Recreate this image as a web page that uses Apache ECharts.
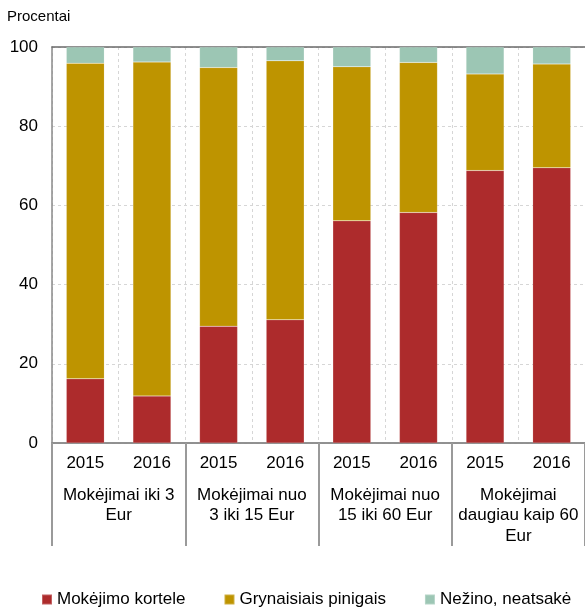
<!DOCTYPE html>
<html>
<head>
<meta charset="utf-8">
<script src="https://cdn.jsdelivr.net/npm/echarts@6/dist/echarts.min.js"></script>
<style>html,body{margin:0;padding:0;background:#fff}#c{width:585px;height:609px}</style>
</head>
<body>
<div id="c"></div>
<script>
const years = ['2015','2016','2015','2016','2015','2016','2015','2016'];
const groups = ['Mokėjimai iki 3\nEur','Mokėjimai nuo\n3 iki 15 Eur','Mokėjimai nuo\n15 iki 60 Eur','Mokėjimai\ndaugiau kaip 60\nEur'];
const seriesNames = ['Mokėjimo kortele','Grynaisiais pinigais','Nežino, neatsakė'];
const card = [16.2, 11.9, 29.5, 31.1, 56.1, 58.2, 68.8, 69.5];
const cash = [79.7, 84.3, 65.3, 65.4, 38.9, 37.9, 24.4, 26.2];
const unknown = [4.1, 3.8, 5.2, 3.5, 5.0, 3.9, 6.8, 4.3];
const yTicks = [0, 20, 40, 60, 80, 100];

const FONT = '"Liberation Sans", Arial, sans-serif';
const colors = ['#AD2B2C', '#BE9400', '#9CC6B4'];
const chart = echarts.init(document.getElementById('c'), null, {renderer: 'canvas'});
chart.setOption({
  animation: false,
  textStyle: {fontFamily: FONT},
  title: {text: 'Procentai', left: 2, top: 4, textStyle: {fontSize: 15, fontWeight: 'normal', color: '#000', fontFamily: FONT}},
  legend: {
    left: 36, top: 586, itemWidth: 10, itemHeight: 10, itemGap: 38,
    icon: 'rect',
    textStyle: {fontSize: 17, color: '#000', fontFamily: FONT},
    data: seriesNames
  },
  grid: {left: 52, top: 47, width: 536, height: 396},
  xAxis: [
    {
      type: 'category', data: years, position: 'bottom',
      axisLine: {show: true, lineStyle: {color: '#8a8a8a', width: 1.5}},
      axisTick: {show: false},
      axisLabel: {fontSize: 17, color: '#000', margin: 12, fontFamily: FONT},
      splitLine: {show: true, interval: 0, lineStyle: {color: '#d6d6d6', type: [3, 3], width: 1}}
    },
    {
      type: 'category', data: groups, position: 'bottom',
      axisLine: {show: true, lineStyle: {color: '#8a8a8a', width: 1.5}},
      axisTick: {show: true, interval: 0, length: 103, lineStyle: {color: '#9a9a9a', width: 2}},
      axisLabel: {fontSize: 17, color: '#000', margin: 42, lineHeight: 20.5, interval: 0, fontFamily: FONT, align: 'center'},
      splitLine: {show: false}
    },
    {
      type: 'category', data: years, position: 'top',
      axisLine: {show: true, lineStyle: {color: '#6a6a6a', width: 1.5}},
      axisTick: {show: false}, axisLabel: {show: false}, splitLine: {show: false}
    }
  ],
  yAxis: {
    type: 'value', min: yTicks[0], max: yTicks[yTicks.length - 1], interval: 20,
    axisLine: {show: true, lineStyle: {color: '#8a8a8a', width: 1.5}},
    axisTick: {show: false},
    axisLabel: {fontSize: 17, color: '#000', margin: 14, fontFamily: FONT},
    splitLine: {show: true, lineStyle: {color: '#d6d6d6', type: [3, 3], width: 1}}
  },
  series: [card, cash, unknown].map((d, i) => ({
    name: seriesNames[i], type: 'bar', stack: 'all', data: d, barWidth: 38,
    xAxisIndex: 0,
    itemStyle: {color: colors[i], borderColor: 'rgba(255,255,255,0.25)', borderWidth: 0.5}
  }))
});
</script>
</body>
</html>
